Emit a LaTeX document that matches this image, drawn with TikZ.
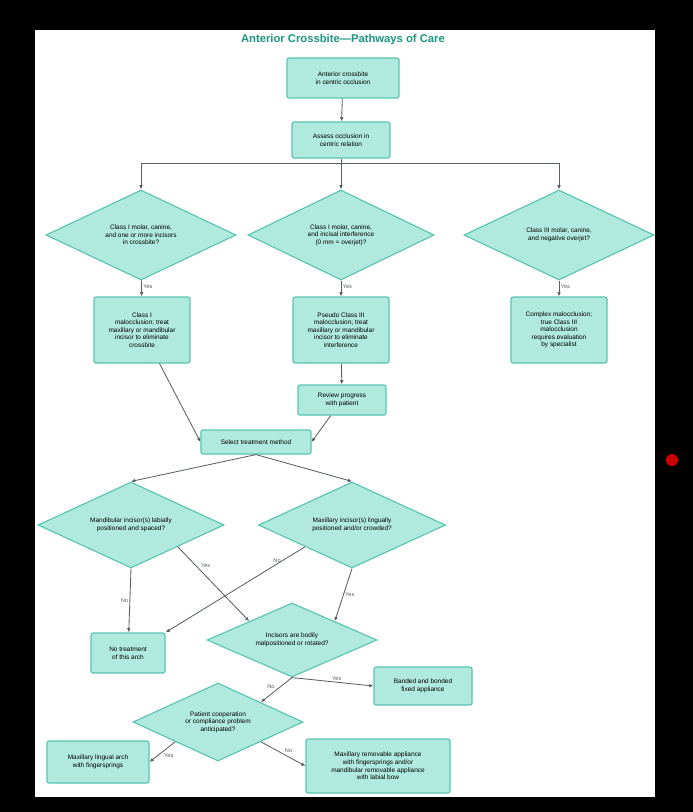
\documentclass[tikz,border=0pt]{standalone}
\usepackage{fontspec}
\setmainfont{Liberation Sans}
\usetikzlibrary{shapes.geometric,arrows.meta}
\definecolor{boxfill}{RGB}{176,234,222}
\definecolor{boxline}{RGB}{88,196,176}
\definecolor{titleteal}{RGB}{28,150,126}
\definecolor{arrowgray}{RGB}{90,96,100}
\tikzset{
  carebox/.style = {draw=boxline, fill=boxfill, line width=0.8pt, rounded corners=1.5pt, align=center, inner sep=1pt, font=\fontsize{4.6}{5.4}\selectfont},
  query/.style = {diamond, draw=boxline, fill=boxfill, line width=0.8pt, align=center, inner sep=0pt, shape aspect=2.2, font=\fontsize{4.6}{5.4}\selectfont},
  flow/.style = {draw=arrowgray, line width=0.6pt, -{Latex[length=3pt,width=2.6pt]}},
  tag/.style = {font=\fontsize{4}{4.5}\selectfont, text=arrowgray, inner sep=1pt}
}
\begin{document}
\begin{tikzpicture}[x=0.025cm, y=-0.025cm]
  \fill[black] (0,0) rectangle (693,812);
  \fill[white] (35,30) rectangle (655,797);
  \fill[red!80!black] (672,460) circle (6);
  \node[text=titleteal, font=\bfseries\fontsize{8}{9}\selectfont] (title) at (343,40) {Anterior Crossbite---Pathways of Care};

  % top of the chart
  \node[carebox, minimum width=112*0.025cm, minimum height=40*0.025cm] (start) at (343,78) {Anterior crossbite\\in centric occlusion};
  \node[carebox, minimum width=98*0.025cm, minimum height=36*0.025cm] (assess) at (341,140) {Assess occlusion in\\centric relation};
  \node[query, minimum width=190*0.025cm, minimum height=90*0.025cm] (cls1) at (141,235) {Class I molar, canine,\\and one or more incisors\\in crossbite?};
  \node[query, minimum width=186*0.025cm, minimum height=90*0.025cm] (pseudo) at (341,235) {Class I molar, canine,\\and incisal interference\\(0 mm = overjet)?};
  \node[query, minimum width=190*0.025cm, minimum height=90*0.025cm] (cls3) at (559,235) {Class III molar, canine,\\and negative overjet?};
  \coordinate (split) at (341,163);

  \node[carebox, minimum width=96*0.025cm, minimum height=66*0.025cm] (treat1) at (142,330) {Class I\\malocclusion; treat\\maxillary or mandibular\\incisor to eliminate\\crossbite};
  \node[carebox, minimum width=96*0.025cm, minimum height=66*0.025cm] (treat2) at (341,330) {Pseudo Class III\\malocclusion; treat\\maxillary or mandibular\\incisor to eliminate\\interference};
  \node[carebox, minimum width=96*0.025cm, minimum height=66*0.025cm] (refer) at (559,330) {Complex malocclusion;\\true Class III\\malocclusion\\requires evaluation\\by specialist};
  \node[carebox, minimum width=88*0.025cm, minimum height=30*0.025cm] (review) at (342,400) {Review progress\\with patient};
  \node[carebox, minimum width=110*0.025cm, minimum height=24*0.025cm] (select) at (256,442) {Select treatment method};

  % lower part
  \node[query, minimum width=186*0.025cm, minimum height=86*0.025cm] (mand) at (131,525) {Mandibular incisor(s) labially\\positioned and spaced?};
  \node[query, minimum width=187*0.025cm, minimum height=86*0.025cm] (maxi) at (352,525) {Maxillary incisor(s) lingually\\positioned and/or crowded?};
  \node[carebox, minimum width=74*0.025cm, minimum height=40*0.025cm] (none) at (128,653) {No treatment\\of this arch};
  \node[query, minimum width=170*0.025cm, minimum height=74*0.025cm] (bodily) at (292,640) {Incisors are bodily\\malpositioned or rotated?};
  \node[carebox, minimum width=98*0.025cm, minimum height=38*0.025cm] (fixed) at (423,686) {Banded and bonded\\fixed appliance};
  \node[query, minimum width=170*0.025cm, minimum height=78*0.025cm] (comply) at (218,722) {Patient cooperation\\or compliance problem\\anticipated?};
  \node[carebox, minimum width=102*0.025cm, minimum height=42*0.025cm] (lingual) at (98,762) {Maxillary lingual arch\\with fingersprings};
  \node[carebox, minimum width=144*0.025cm, minimum height=54*0.025cm] (remov) at (378,766) {Maxillary removable appliance\\with fingersprings and/or\\mandibular removable appliance\\with labial bow};

  \draw[flow] (start) -- (assess);
  \draw[draw=arrowgray, line width=0.6pt] (assess) -- (split);
  \draw[flow] (split) -| (cls1.north);
  \draw[flow] (split) -- (pseudo.north);
  \draw[flow] (split) -| (cls3.north);
  \draw[flow] (cls1) -- node[tag, right, pos=0.4] {Yes} (treat1);
  \draw[flow] (pseudo) -- node[tag, right, pos=0.4] {Yes} (treat2);
  \draw[flow] (cls3) -- node[tag, right, pos=0.4] {Yes} (refer);
  \draw[flow] (treat1) -- (select.west);
  \draw[flow] (treat2) -- (review);
  \draw[flow] (review) -- (select.east);
  \draw[flow] (select.south) -- (mand.north);
  \draw[flow] (select.south) -- (maxi.north);
  \draw[flow] (mand.south) -- node[tag, left] {No} (none);
  \draw[flow] (mand.south east) -- node[tag, above right, pos=0.3] {Yes} (bodily.north west);
  \draw[flow] (maxi.south west) -- node[tag, above, pos=0.2] {No} (none.north east);
  \draw[flow] (maxi.south) -- node[tag, right] {Yes} (bodily.north east);
  \draw[flow] (bodily.south) -- node[tag, above left] {No} (comply.north east);
  \draw[flow] (bodily.south) -- node[tag, above, pos=0.55] {Yes} (fixed.west);
  \draw[flow] (comply.south west) -- node[tag, below right] {Yes} (lingual.east);
  \draw[flow] (comply.south east) -- node[tag, above right] {No} (remov.west);
\end{tikzpicture}
\end{document}
